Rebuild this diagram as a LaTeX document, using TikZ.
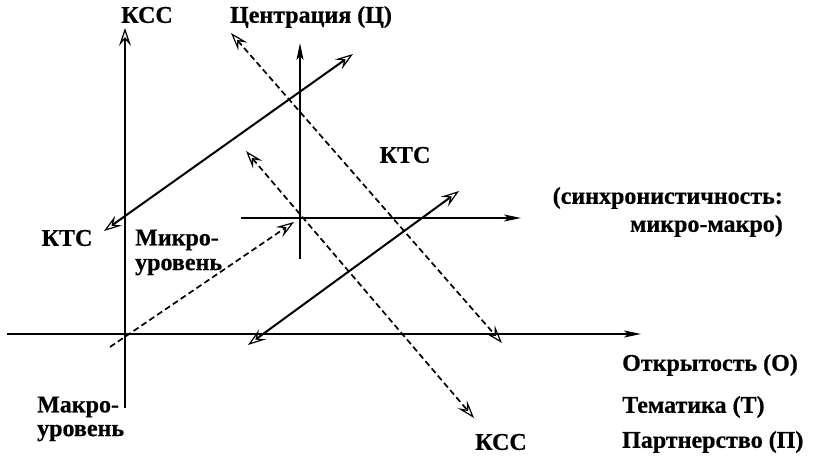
\documentclass[tikz,border=0pt]{standalone}
\usepackage{fontspec}
\setmainfont{Liberation Serif}[BoldFeatures={FakeBold=0.6}]
\usetikzlibrary{arrows.meta}
\tikzset{
  oa/.tip={Stealth[open,length=18pt,width=12pt,inset=7pt,line width=1.2pt]},
  fa/.tip={Stealth[length=17pt,width=7pt,inset=4pt]}}
\begin{document}
\begin{tikzpicture}[x=1pt,y=-1pt,
  ln/.style={line width=2pt},
  dsh/.style={line width=1.7pt,dash pattern=on 6pt off 3.5pt},
  lbl/.style={font=\bfseries\fontsize{24}{26}\selectfont,inner sep=0pt}]
\useasboundingbox (0,0) rectangle (814,462);
% coordinates
\coordinate (hL) at (7,334);
\coordinate (hR) at (641,334);
\coordinate (vT) at (125,28);
\coordinate (vB) at (125,408);
\coordinate (sT) at (300,43);
\coordinate (sB) at (300,259);
\coordinate (sL) at (241,218);
\coordinate (sR) at (521,218);
\coordinate (a1) at (104,231);
\coordinate (a2) at (353,54);
\coordinate (b1) at (248,345);
\coordinate (b2) at (459,191);
\coordinate (c1) at (231,33);
\coordinate (c2) at (502,343);
\coordinate (d1) at (246,151);
\coordinate (d2) at (474,418);
\coordinate (e1) at (110,347);
\coordinate (e2) at (294,222);
% axes
\draw[ln,-{fa}] (hL) -- (hR);
\draw[ln,-{oa}] (vB) -- (vT);
\draw[ln,-{fa}] (sB) -- (sT);
\draw[ln,-{fa}] (sL) -- (sR);
% solid double arrows
\draw[ln,{oa}-{oa}] (a1) -- (a2);
\draw[ln,{oa}-{oa}] (b1) -- (b2);
% dashed arrows
\draw[dsh,{oa}-{oa}] (c1) -- (c2);
\draw[dsh,{oa}-{oa}] (d1) -- (d2);
\draw[dsh,-{oa}] (e1) -- (e2);
% labels
\node[lbl] (kss1) at (147,15) {КСС};
\node[lbl] (cent) at (311,17) {Центрация (Ц)};
\node[lbl] (kts1) at (405,155) {КТС};
\node[lbl,anchor=east] (sync1) at (783,198) {(синхронистичность:};
\node[lbl,anchor=east] (sync2) at (783,226) {микро-макро)};
\node[lbl] (kts2) at (67,238) {КТС};
\node[lbl,anchor=west] (mic1) at (135,240) {Микро-};
\node[lbl,anchor=west] (mic2) at (135,267) {уровень};
\node[lbl,anchor=west] (mac1) at (37,407) {Макро-};
\node[lbl,anchor=west] (mac2) at (37,433) {уровень};
\node[lbl,anchor=west] (open) at (622,365) {Открытость (О)};
\node[lbl,anchor=west] (tem) at (622,407) {Тематика (Т)};
\node[lbl,anchor=west] (part) at (622,442) {Партнерство (П)};
\node[lbl] (kss2) at (501,442) {КСС};
\end{tikzpicture}
\end{document}
